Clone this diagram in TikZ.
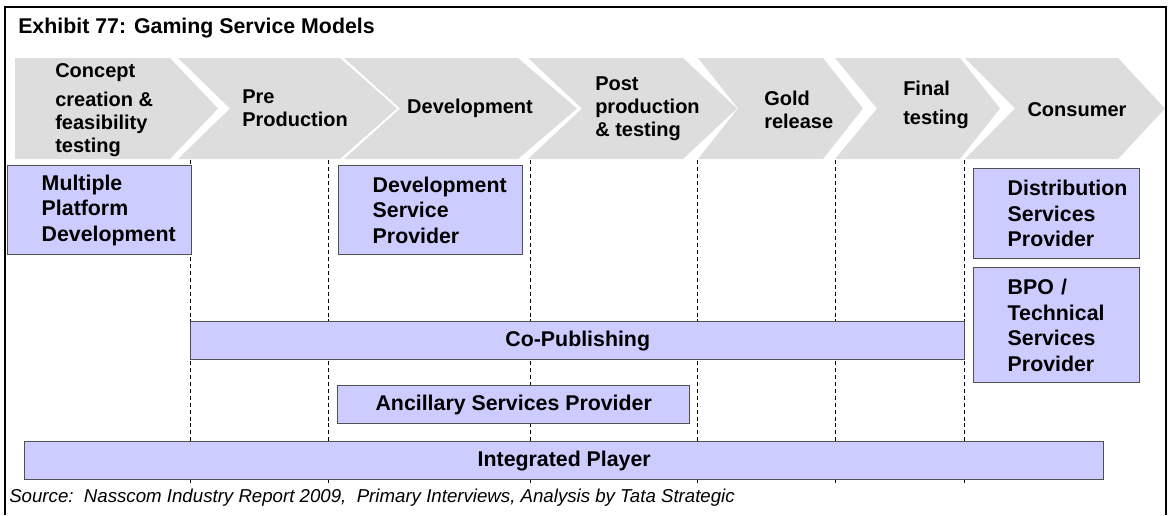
\documentclass[tikz,border=0pt]{standalone}
\usepackage{fontspec}
\setmainfont{Liberation Sans}
\usepackage{xcolor}
\usepackage{tikz}

\definecolor{chevgray}{HTML}{DDDDDD}
\definecolor{svcfill}{HTML}{CCCCFF}
\definecolor{svcline}{HTML}{505050}
\newcommand{\exhibitfont}{\fontsize{16}{19.2}\selectfont\bfseries}
\newcommand{\phasefont}{\fontsize{15}{17.25}\selectfont\bfseries}
\newcommand{\svcfont}{\fontsize{16}{19.2}\selectfont\bfseries\hyphenpenalty=10000 }
\newcommand{\srcfont}{\fontsize{14}{16.8}\selectfont\itshape}

\begin{document}
\begin{tikzpicture}[
  x=0.75pt, y=-0.75pt,
  chev/.style={fill=chevgray},
  phasetext/.style={font=\phasefont, align=left, inner sep=0pt, anchor=west},
  stageline/.style={dash pattern=on 3pt off 2.2pt, line width=0.75pt},
  svc/.style={draw=svcline, line width=1.1pt, fill=svcfill, font=\svcfont,
    inner sep=0pt, anchor=north west},
  stackbox/.style={svc, align=left, inner xsep=25.5pt, text width=#1},
  wideband/.style={svc, minimum width=#1, minimum height=28.5pt},
]
\useasboundingbox (0,0) rectangle (1168,515);

% frame and heading
\draw[line width=1.1pt] (5,515) -- (5,7) -- (1166,7) -- (1166,515);
\node[font=\exhibitfont, anchor=base west, inner sep=0pt] (title) at (18,33)
  {Exhibit 77: Gaming Service Models};

% value chain chevrons
\fill[chev] (15,58) -- (170,58) -- (218,108.5) -- (170,159) -- (15,159) -- cycle;
\fill[chev] (178,58) -- (340,58) -- (397,108.5) -- (340,159) -- (178,159) -- (230,108.5) -- cycle;
\fill[chev] (344,58) -- (518,58) -- (577,108.5) -- (518,159) -- (344,159) -- (400,108.5) -- cycle;
\fill[chev] (528,58) -- (683,58) -- (737,108.5) -- (683,159) -- (528,159) -- (582,108.5) -- cycle;
\fill[chev] (698,58) -- (823,58) -- (863,108.5) -- (823,159) -- (698,159) -- (738,108.5) -- cycle;
\fill[chev] (835,58) -- (960,58) -- (1000,108.5) -- (960,159) -- (835,159) -- (877,108.5) -- cycle;
\fill[chev] (965,58) -- (1118,58) -- (1165,108.5) -- (1118,159) -- (965,159) -- (1015,108.5) -- cycle;

\node[phasetext] (concept) at (55,110.5) {Concept\\[4.5pt]creation \&\\feasibility\\testing};
\node[phasetext] (preprod) at (242,108.5) {Pre\\Production};
\node[phasetext, anchor=center] (devel) at (470,108.5) {Development};
\node[phasetext] (postprod) at (595,108.5) {Post\\production\\\& testing};
\node[phasetext] (gold) at (764,110) {Gold\\release};
\node[phasetext] (final) at (903,105) {Final\\[5pt]testing};
\node[phasetext, anchor=center] (consumer) at (1077,110) {Consumer};

% stage separators
\draw[stageline] (190,160) -- (190,485) (328,160) -- (328,485)
  (530,160) -- (530,485) (697,160) -- (697,485)
  (835,160) -- (835,485) (964,160) -- (964,485);

% service models
\node[stackbox=87pt, minimum height=66.75pt] (mpd) at (7,165) {Multiple\\Platform\\Development};
\node[stackbox=87pt, minimum height=66.75pt] (dsp) at (338,165) {Development\\Service\\Provider};
\node[stackbox=73.5pt, minimum height=67.5pt] (dist) at (973,168) {Distribution\\Services\\Provider};
\node[stackbox=73.5pt, minimum height=86.25pt] (bpo) at (973,267) {BPO /\\Technical\\Services\\Provider};
\node[wideband=580.5pt] (copub) at (190,321) {Co-Publishing};
\node[wideband=264pt] (ancil) at (337,385) {Ancillary Services Provider};
\node[wideband=809.25pt] (integ) at (24,441) {Integrated Player};

\node[font=\srcfont, anchor=base west, inner sep=0pt] (source) at (9,502)
  {Source:\ \ Nasscom Industry Report 2009,\ \ Primary Interviews, Analysis by Tata Strategic};

\end{tikzpicture}
\end{document}
